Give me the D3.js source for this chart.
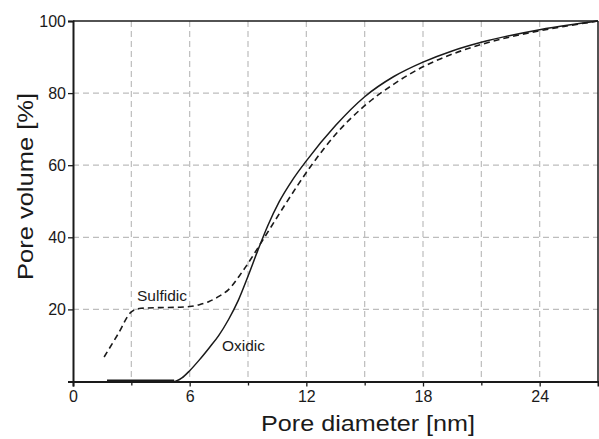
<!DOCTYPE html>
<html><head><meta charset="utf-8">
<script src="https://cdn.jsdelivr.net/npm/d3@7"></script>
<style>body{margin:0;background:#fff}svg{display:block;font-family:"Liberation Sans",Arial,sans-serif}</style>
</head><body>
<svg id="c" width="599" height="439"></svg>
<script>
const oxidicX = [1.75, 2.5, 3.5, 4.5, 5.2, 5.6, 6, 6.5, 7, 7.5, 8, 8.5, 9, 9.5, 10, 10.6, 11.3, 12, 13.5, 15, 16.5, 18, 19.5, 21, 22.5, 24, 25.5, 27];
const oxidicY = [0, 0, 0, 0, 0, 1, 3, 6, 9.3, 12.8, 17.2, 22.5, 29.2, 36.3, 43, 49.8, 56, 61.2, 71, 79, 84.6, 88.6, 91.7, 94.1, 96, 97.6, 98.9, 100];
const sulfidicX = [1.6, 2.3, 3, 3.5, 4.5, 5.5, 6, 6.5, 7, 7.5, 8, 8.7, 9.85, 10.9, 12.2, 13.5, 15, 16.5, 18, 19.5, 21, 22.5, 24, 25.5, 27];
const sulfidicY = [6.8, 13, 19.3, 20.3, 20.5, 20.6, 20.8, 21.3, 22.2, 23.6, 25.5, 30.4, 40, 49, 59.5, 68.5, 76.5, 82.5, 87.3, 90.8, 93.5, 95.6, 97.3, 98.7, 100];
const xMajorTicks = [0, 6, 12, 18, 24];
const xGrid = [3, 6, 9, 12, 15, 18, 21, 24];
const xMinorTicks = [3, 9, 15, 21];
const yTicks = [20, 40, 60, 80, 100];
const yGrid = [20, 40, 60, 80];

const svg = d3.select("#c");
const L = 73, R = 598, T = 21, B = 381.5;
const x = d3.scaleLinear().domain([0, 27]).range([L, R]);
const y = d3.scaleLinear().domain([0, 100]).range([B, T]);
const ink = "#1a1a1a";

// grid
svg.append("g").selectAll("line").data(xGrid).join("line")
  .attr("x1", d => x(d)).attr("x2", d => x(d)).attr("y1", T).attr("y2", B)
  .attr("stroke", "#bdbdbd").attr("stroke-width", 1.2).attr("stroke-dasharray", "6,4");
svg.append("g").selectAll("line").data(yGrid).join("line")
  .attr("x1", L).attr("x2", R).attr("y1", d => y(d)).attr("y2", d => y(d))
  .attr("stroke", "#bdbdbd").attr("stroke-width", 1.2).attr("stroke-dasharray", "6,4");

// frame top/right
svg.append("line").attr("x1", L).attr("x2", R).attr("y1", T).attr("y2", T).attr("stroke", ink).attr("stroke-width", 1.5);
svg.append("line").attr("x1", R).attr("x2", R).attr("y1", T).attr("y2", B).attr("stroke", ink).attr("stroke-width", 1.5);

// axes
svg.append("g").attr("transform", `translate(0,${B})`)
  .call(d3.axisBottom(x).tickValues(xMajorTicks).tickSize(5).tickPadding(4).tickFormat(d3.format("d")));
svg.append("g").attr("transform", `translate(0,${B})`)
  .call(d3.axisBottom(x).tickValues(xMinorTicks).tickSize(4).tickFormat(""))
  .call(g => g.select(".domain").remove());
svg.append("g").attr("transform", `translate(${L},0)`)
  .call(d3.axisLeft(y).tickValues(yTicks).tickSize(5).tickPadding(2).tickFormat(d3.format("d")));
svg.selectAll(".domain").attr("stroke", ink).attr("stroke-width", 2);
svg.selectAll(".tick line").attr("stroke", ink).attr("stroke-width", 1.3);
svg.selectAll(".tick text").attr("font-size", 16).attr("fill", ink).attr("font-family", "Liberation Sans, Arial, sans-serif");

// curves
const line = d3.line().x(d => x(d[0])).y(d => y(d[1])).curve(d3.curveMonotoneX);
svg.append("path").datum(sulfidicX.map((v, i) => [v, sulfidicY[i]]))
  .attr("d", line).attr("fill", "none").attr("stroke", ink).attr("stroke-width", 1.6).attr("stroke-dasharray", "6,4");
svg.append("path").datum(oxidicX.map((v, i) => [v, oxidicY[i]]))
  .attr("d", line).attr("fill", "none").attr("stroke", ink).attr("stroke-width", 1.5);
// thick baseline segment of oxidic
svg.append("line").attr("x1", x(oxidicX[0])).attr("x2", x(5.2)).attr("y1", B - 0.5).attr("y2", B - 0.5)
  .attr("stroke", ink).attr("stroke-width", 3);

// labels
svg.append("text").attr("x", 137).attr("y", 301).attr("font-size", 15).attr("fill", ink)
  .attr("textLength", 50).attr("lengthAdjust", "spacingAndGlyphs").text("Sulfidic");
svg.append("text").attr("x", 222).attr("y", 351).attr("font-size", 15).attr("fill", ink)
  .attr("textLength", 43).attr("lengthAdjust", "spacingAndGlyphs").text("Oxidic");

svg.append("text").attr("x", 261).attr("y", 431)
  .attr("font-size", 22).attr("fill", ink)
  .attr("textLength", 214).attr("lengthAdjust", "spacingAndGlyphs").text("Pore diameter [nm]");
svg.append("text").attr("transform", `translate(33,280) rotate(-90)`)
  .attr("font-size", 22).attr("fill", ink)
  .attr("textLength", 187).attr("lengthAdjust", "spacingAndGlyphs").text("Pore volume [%]");
</script>
</body></html>
